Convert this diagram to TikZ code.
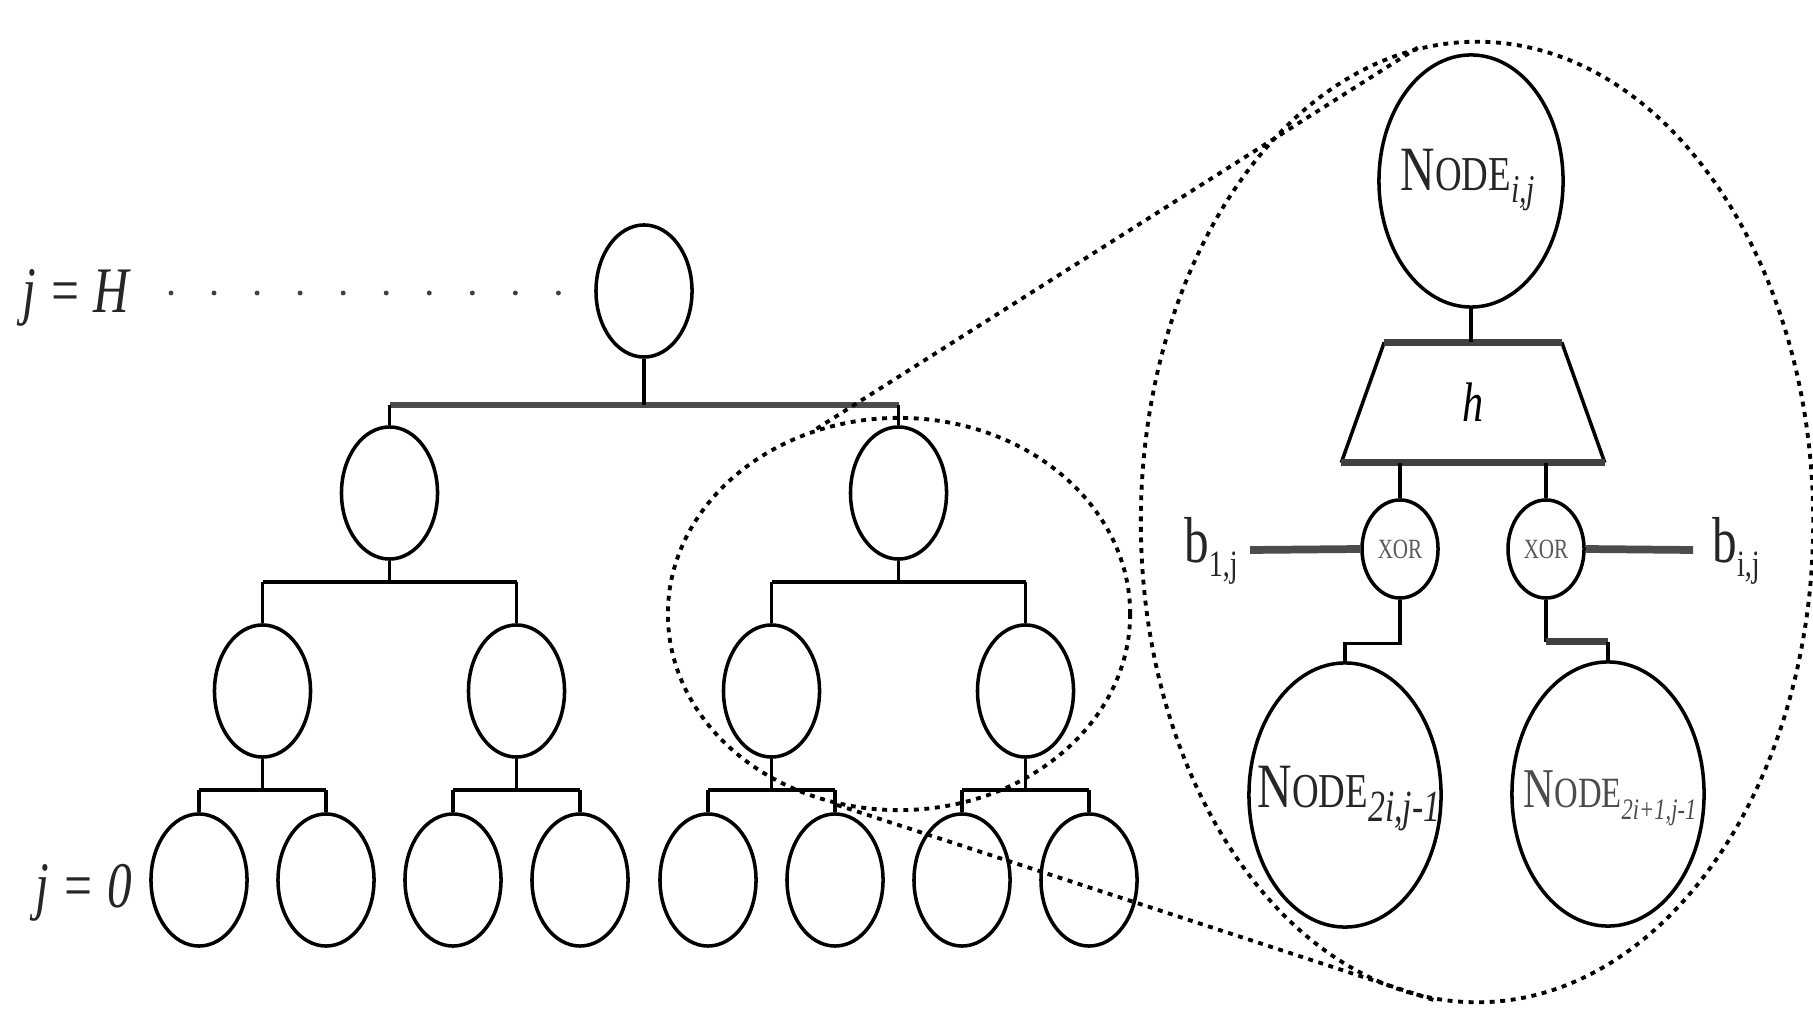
\documentclass[tikz,border=0pt]{standalone}
\usepackage{fontspec}
\setmainfont{Liberation Serif}
\usepackage{graphicx}
\usetikzlibrary{shapes.geometric}

% text is set slightly taller than wide, as in the figure
\newcommand{\tallt}[1]{\scalebox{1}[1.32]{#1}}
\newcommand{\fs}[1]{\fontsize{#1}{#1}\selectfont}
\newcommand{\nodeword}[2]{{\fs{#1}N}{\fs{#2}ODE}}
\newcommand{\lowsub}[3]{\raisebox{#1}{\fs{#2}#3}}

\begin{document}
\begin{tikzpicture}[x=0.01cm,y=-0.01cm,
  treenode/.style={draw,ellipse,line width=1pt,inner sep=0pt,minimum width=0.96cm,minimum height=1.32cm},
  bignode/.style={draw,ellipse,line width=1pt,inner sep=0pt,minimum width=1.84cm,minimum height=2.52cm},
  childnode/.style={draw,ellipse,line width=1pt,inner sep=0pt,minimum width=1.92cm,minimum height=2.64cm},
  xornode/.style={draw,ellipse,line width=1pt,inner sep=0pt,minimum width=0.76cm,minimum height=0.98cm},
  lens/.style={draw,ellipse,line width=1.1pt,dash pattern=on 1.4pt off 1.6pt,inner sep=0pt},
  stem/.style={line width=0.9pt},
  bus/.style={line width=1.2pt},
  topbus/.style={line width=1.8pt,draw=black!70},
  heavy/.style={line width=2pt,draw=black!75},
  bline/.style={line width=2.2pt,draw=black!70},
  zoomline/.style={line width=1.1pt,dash pattern=on 1.4pt off 1.6pt},
  guide/.style={line width=1.4pt,line cap=round,dash pattern=on 0pt off 12.24pt,draw=black!75},
  txt/.style={inner sep=0pt,text=black!85},
]
\useasboundingbox (0,0) rectangle (1813,1013);

% ---------- level labels ----------
\node[txt] (jH) at (76,298) {\tallt{\fs{14pt}\itshape j = H}};
\node[txt] (j0) at (84,893) {\tallt{\fs{14pt}\itshape j = 0}};
\coordinate (gA) at (171,293);
\coordinate (gB) at (566,293);
\draw[guide] (gA) -- (gB);

% ---------- binary tree ----------
\node[treenode] (root) at (644,291) {};
\node[treenode] (l1a) at (389.5,493) {};
\node[treenode] (l1b) at (898.5,493) {};
\node[treenode] (l2a) at (262.5,691) {};
\node[treenode] (l2b) at (516.5,691) {};
\node[treenode] (l2c) at (771.5,691) {};
\node[treenode] (l2d) at (1025.5,691) {};
\foreach \i/\x in {1/199,2/326,3/453,4/580,5/708,6/835,7/962,8/1089}
  \node[treenode] (lf\i) at (\x,880) {};

\coordinate (y1) at (0,405);
\coordinate (y2) at (0,582);
\coordinate (y3) at (0,790);

\draw[topbus] (l1a.north |- y1) -- (l1b.north |- y1);
\draw[stem] (root.south) -- (root.south |- y1);
\foreach \n in {l1a,l1b} \draw[stem] (\n.north) -- (\n.north |- y1);

\foreach \p/\a/\b in {l1a/l2a/l2b,l1b/l2c/l2d} {
  \draw[bus] (\a.north |- y2) -- (\b.north |- y2);
  \draw[stem] (\p.south) -- (\p.south |- y2);
  \draw[stem] (\a.north) -- (\a.north |- y2);
  \draw[stem] (\b.north) -- (\b.north |- y2);
}
\foreach \p/\a/\b in {l2a/lf1/lf2,l2b/lf3/lf4,l2c/lf5/lf6,l2d/lf7/lf8} {
  \draw[bus] (\a.north |- y3) -- (\b.north |- y3);
  \draw[stem] (\p.south) -- (\p.south |- y3);
  \draw[stem] (\a.north) -- (\a.north |- y3);
  \draw[stem] (\b.north) -- (\b.north |- y3);
}

% ---------- magnified sub-tree ----------
\node[bignode] (top) at (1471,181) {};
\node[txt] (topLbl) at (1468,180)
  {\tallt{\nodeword{13.6pt}{10.5pt}\lowsub{-2.5pt}{8.5pt}{\itshape i,j}}};

% hash function: a trapezoid around the label h
\node[inner sep=0pt,minimum width=2.62cm,minimum height=1.19cm] (hash) at (1473,402.5)
  {\tallt{\fs{12pt}\itshape h}};
\draw[line width=1pt] ([xshift=0.43cm]hash.north west) -- (hash.south west)
  (hash.south east) -- ([xshift=-0.43cm]hash.north east);
\draw[heavy] ([xshift=0.43cm]hash.north west) -- ([xshift=-0.43cm]hash.north east);
\draw[heavy] (hash.south west) -- (hash.south east);
\draw[stem] (top.south) -- (top.south |- hash.north);

\node[xornode] (xorL) at (1400,549) {\tallt{\fs{6pt}\color{black!65}XOR}};
\node[xornode] (xorR) at (1546,549) {\tallt{\fs{6pt}\color{black!65}XOR}};
\draw[stem] (xorL.north) -- (xorL.north |- hash.south);
\draw[stem] (xorR.north) -- (xorR.north |- hash.south);

\node[txt] (bL) at (1211,551) {\tallt{{\fs{14pt}b}\lowsub{-3pt}{8pt}{1,j}}};
\node[txt] (bR) at (1736,551) {\tallt{{\fs{14pt}b}\lowsub{-3pt}{8pt}{i,j}}};
\coordinate (bLend) at (1250,550);
\coordinate (bRend) at (1693,550);
\draw[bline] (bLend) -- (xorL.west);
\draw[bline] (xorR.east) -- (bRend);

\node[childnode] (childL) at (1345,795) {};
\node[childnode] (childR) at (1608,794) {};
\node[txt] (childLLbl) at (1349,799)
  {\tallt{\nodeword{13.6pt}{10.5pt}\lowsub{-3pt}{9.6pt}{\itshape 2i,j-1}}};
\node[txt] (childRLbl) at (1610,798)
  {\tallt{\color{black!70}\nodeword{12.1pt}{9.3pt}\lowsub{-2.5pt}{6.4pt}{\itshape 2i+1,j-1}}};

\draw[stem] (xorL.south) -- ++(0,44) -| (childL.north);
\draw[stem] (xorR.south) -- ++(0,42) coordinate (kR);
\draw[heavy] (kR) -- (kR -| childR.north);
\draw[line width=1.3pt] (kR -| childR.north) -- (childR.north);

% ---------- zoom lenses ----------
\node[lens,minimum width=4.62cm,minimum height=3.92cm] (lensS) at (899,614) {};
\node[lens,minimum width=6.72cm,minimum height=9.6cm] (lensB) at (1477,522) {};
\draw[zoomline] (lensS.114) -- (lensB.97);
\draw[zoomline] (lensS.252) -- (lensB.265);

\end{tikzpicture}
\end{document}
